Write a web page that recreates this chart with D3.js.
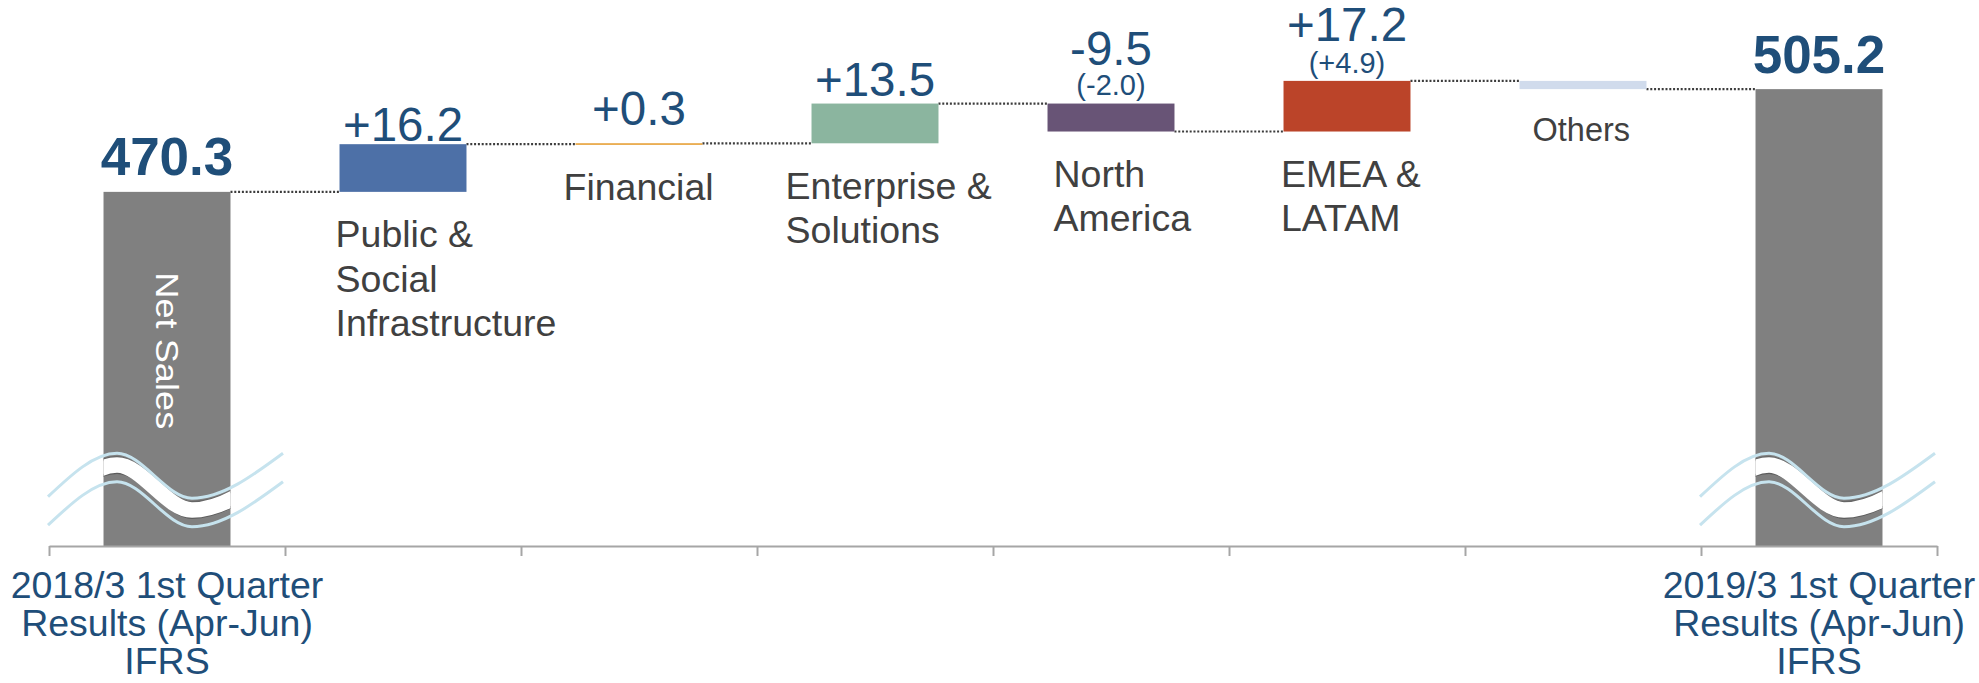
<!DOCTYPE html>
<html><head><meta charset="utf-8">
<script src="https://cdn.jsdelivr.net/npm/d3@7"></script>
<style>html,body{margin:0;padding:0;background:#fff;} svg{display:block;}</style>
</head><body>
<svg id="chart" width="1979" height="683"></svg>
<script>
// ---------- data ----------
const categories = ["2018/3 Q1", "Public & Social Infrastructure", "Financial", "Enterprise & Solutions", "North America", "EMEA & LATAM", "Others", "2019/3 Q1"];
const barTypes = ["total", "delta", "delta", "delta", "delta", "delta", "delta", "total"];
const values = [470.3, 16.2, 0.3, 13.5, -9.5, 17.2, -2.8, 505.2];
const valueLabels = ["470.3", "+16.2", "+0.3", "+13.5", "-9.5", "+17.2", "", "505.2"];
const subLabels = ["", "", "", "", "(-2.0)", "(+4.9)", "", ""];
const categoryLabelLines = [[], ["Public &", "Social", "Infrastructure"], ["Financial"], ["Enterprise &", "Solutions"], ["North", "America"], ["EMEA &", "LATAM"], ["Others"], []];
const axisLabelLines = [["2018/3 1st Quarter", "Results (Apr-Jun)", "IFRS"], [], [], [], [], [], [], ["2019/3 1st Quarter", "Results (Apr-Jun)", "IFRS"]];
const barColors = ["#808080", "#4d70a7", "#e59a2a", "#8bb59f", "#685476", "#bb4429", "#d0dbec", "#808080"];
const totalBarText = "Net Sales";

// ---------- layout ----------
const W = 1979, H = 683;
const axisY = 546, left = 49, right = 1937;
const valueLabelDy = [-17, -3.5, -18.5, -8, -39, -40, 0, -16];
const subLabelDy = [0, 0, 0, 0, -9, -8, 0, 0];
const catLabelDx = [0, -4, -12, -26, 6, -2.5, 13, 0];
const catFont = [37.5, 37.5, 37.5, 37.5, 37.5, 37.5, 32.5, 37.5];
const FONT = "'Liberation Sans', Arial, Helvetica, sans-serif";
const BLUE_TXT = "#1f4e79", GRAY_TXT = "#404040";

const svg = d3.select("#chart");

const x = d3.scaleBand().domain(categories).range([left, right]).paddingInner(0.462).paddingOuter(0.231);
const y = d3.scaleLinear().domain([350, 510]).range([axisY, 75]);
const bw = x.bandwidth();

// running totals
let run = 0;
const rows = categories.map((c, i) => {
  let start, end;
  if (barTypes[i] === "total") { start = y.domain()[0]; end = values[i]; run = values[i]; }
  else { start = run; end = run + values[i]; run = end; }
  return { c, i, start, end, level: run, type: barTypes[i] };
});

// connectors (dotted)
svg.append("g").selectAll("line").data(rows.slice(0, -1)).join("line")
  .attr("x1", d => x(d.c) + bw)
  .attr("x2", d => x(categories[d.i + 1]))
  .attr("y1", d => y(d.level)).attr("y2", d => y(d.level))
  .attr("stroke", "#3c3c3c").attr("stroke-width", 2.2).attr("stroke-dasharray", "2,1.8");

// bars
svg.append("g").selectAll("rect").data(rows).join("rect")
  .attr("x", d => x(d.c))
  .attr("width", bw)
  .attr("y", d => Math.min(y(d.start), y(d.end)))
  .attr("height", d => Math.max(1.5, Math.abs(y(d.start) - y(d.end))))
  .attr("fill", (d, i) => barColors[i]);

// wave breaks on total bars
const waveKeys = [[-119, -49.3], [-50, -92.7], [25, -47.8], [116, -92.7]];
const waveLine = d3.line().curve(d3.curveMonotoneX);
const defs = svg.append("defs");
rows.filter(d => d.type === "total").forEach((d, k) => {
  const cx = x(d.c) + bw / 2;
  const pts = off => waveKeys.map(p => [cx + p[0], axisY + p[1] + off]);
  const cid = "clipbar" + k;
  defs.append("clipPath").attr("id", cid).append("rect")
    .attr("x", x(d.c)).attr("width", bw).attr("y", y(d.end)).attr("height", axisY - y(d.end));
  const g = svg.append("g");
  const gc = g.append("g").attr("clip-path", `url(#${cid})`);
  gc.append("path").attr("d", waveLine(pts(4))).attr("fill", "none").attr("stroke", "#666666").attr("stroke-width", 2.5);
  gc.append("path").attr("d", waveLine(pts(19.5))).attr("fill", "none").attr("stroke", "#5c5c5c").attr("stroke-width", 2.5);
  gc.append("path").attr("d", waveLine(pts(11.8))).attr("fill", "none").attr("stroke", "#ffffff").attr("stroke-width", 15.5);
  g.append("path").attr("d", waveLine(pts(0))).attr("fill", "none").attr("stroke", "#c6e3ee").attr("stroke-width", 3);
  g.append("path").attr("d", waveLine(pts(28.5))).attr("fill", "none").attr("stroke", "#c6e3ee").attr("stroke-width", 3);
});

// Net Sales vertical text in first bar
{
  const d = rows[0];
  svg.append("text")
    .attr("transform", `translate(${x(d.c) + bw / 2 - 10.8},${350.8}) rotate(90)`)
    .attr("text-anchor", "middle")
    .attr("font-family", FONT).attr("font-size", 31).attr("fill", "#ffffff")
    .attr("textLength", 157).attr("lengthAdjust", "spacingAndGlyphs")
    .text(totalBarText);
}

// value labels
svg.append("g").selectAll("text").data(rows.filter(d => valueLabels[d.i] !== "")).join("text")
  .attr("x", d => x(d.c) + bw / 2)
  .attr("y", d => Math.min(y(d.start), y(d.end)) + valueLabelDy[d.i])
  .attr("text-anchor", "middle")
  .attr("font-family", FONT)
  .attr("font-size", d => d.type === "total" ? 53 : 47.5)
  .attr("font-weight", d => d.type === "total" ? "bold" : "normal")
  .attr("fill", BLUE_TXT)
  .text(d => valueLabels[d.i]);

// sub labels
svg.append("g").selectAll("text").data(rows.filter(d => subLabels[d.i] !== "")).join("text")
  .attr("x", d => x(d.c) + bw / 2)
  .attr("y", d => Math.min(y(d.start), y(d.end)) + subLabelDy[d.i])
  .attr("text-anchor", "middle")
  .attr("font-family", FONT).attr("font-size", 29)
  .attr("fill", BLUE_TXT)
  .text(d => subLabels[d.i]);

// category labels under delta bars
rows.filter(d => categoryLabelLines[d.i].length).forEach(d => {
  const fs = catFont[d.i];
  const bottom = Math.max(y(d.start), y(d.end));
  const t = svg.append("text")
    .attr("font-family", FONT).attr("font-size", fs).attr("fill", GRAY_TXT);
  categoryLabelLines[d.i].forEach((ln, j) => {
    t.append("tspan")
      .attr("x", x(d.c) + catLabelDx[d.i])
      .attr("y", bottom + 28.5 + 0.716 * fs + j * 44.5)
      .text(ln);
  });
});

// axis
const tickScale = d3.scaleLinear().domain([0, categories.length]).range([left, right]);
const axis = svg.append("g").attr("transform", `translate(0,${axisY})`)
  .call(d3.axisBottom(tickScale).tickValues(d3.range(categories.length + 1)).tickSize(10).tickSizeOuter(0).tickFormat(""));
axis.select(".domain").attr("stroke", "#a6a6a6").attr("stroke-width", 2);
axis.selectAll(".tick line").attr("stroke", "#a6a6a6").attr("stroke-width", 2);

// axis labels (multi-line)
rows.filter(d => axisLabelLines[d.i].length).forEach(d => {
  const t = svg.append("text")
    .attr("font-family", FONT).attr("font-size", 37.5).attr("fill", BLUE_TXT)
    .attr("text-anchor", "middle");
  axisLabelLines[d.i].forEach((ln, j) => {
    t.append("tspan").attr("x", x(d.c) + bw / 2).attr("y", 598 + j * 38).text(ln);
  });
});
</script>
</body></html>
